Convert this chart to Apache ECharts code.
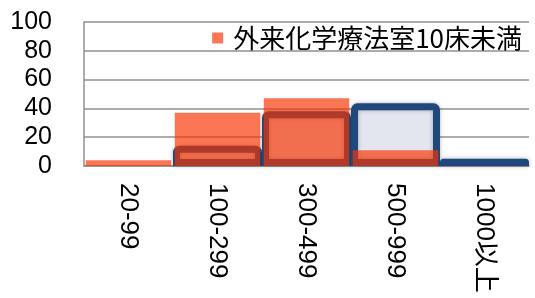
<!DOCTYPE html>
<html>
<head>
<meta charset="utf-8">
<script src="https://cdn.jsdelivr.net/npm/echarts@6/dist/echarts.min.js"></script>
<style>
  html, body { margin: 0; padding: 0; background: #fff; overflow: hidden; }
  #chart { width: 535px; height: 298px; }
</style>
</head>
<body>
<div id="chart"></div>
<script>
// bed-size categories
const categories = ['20-99', '100-299', '300-499', '500-999', '1000以上']
const yTicks = [0, 20, 40, 60, 80, 100]

// orange series (the one in the legend)
const seriesName = '外来化学療法室10床未満'
const orangeValues = [4, 37, 47, 11, 0]
// dark blue outlined step bars behind it
const blueValues = ['-', 14, 38, 43.5, 5]

var myChart = echarts.init(document.getElementById('chart'))

var labelFont = '"Liberation Sans", "Noto Sans CJK JP", Arial, sans-serif'

var option = {
    animation: false,
    grid: {
        left: 84,
        right: 6,
        top: 22,
        bottom: 132,
    },
    legend: {
        data: [seriesName],
        right: 8,
        top: 20,
        itemWidth: 11,
        itemHeight: 11,
        icon: 'rect',
        textStyle: {
            fontFamily: '"Noto Sans CJK JP", sans-serif',
            fontSize: 26,
            color: '#000',
            padding: [0, 0, 0, 5],
        },
    },
    xAxis: [{
        type: 'category',
        data: categories,
        axisLine: { lineStyle: { color: '#909090', width: 1.5 } },
        axisTick: { show: false },
        axisLabel: {
            rotate: -90,
            margin: 17,
            fontSize: 26,
            fontFamily: labelFont,
            color: '#000',
        },
    }, {
        type: 'category',
        data: categories,
        show: false,
    }],
    yAxis: {
        type: 'value',
        min: yTicks[0],
        max: yTicks[yTicks.length - 1],
        interval: 20,
        axisLine: { show: true, lineStyle: { color: '#909090', width: 1.5 } },
        axisTick: { show: false },
        splitLine: { lineStyle: { color: '#909090', width: 1.5 } },
        axisLabel: {
            margin: 32,
            fontSize: 25,
            fontFamily: labelFont,
            color: '#000',
            padding: [5, 0, 0, 0],
        },
    },
    series: [{
        name: 'blue',
        type: 'bar',
        xAxisIndex: 1,
        data: blueValues,
        barCategoryGap: 0,
        clip: true,
        z: 1,
        itemStyle: {
            color: '#e3e6ee',
            borderColor: '#1f497d',
            borderWidth: 7,
            borderRadius: [3, 3, 0, 0],
            shadowBlur: 4,
            shadowColor: 'rgba(0,0,0,0.3)',
        },
    }, {
        name: seriesName,
        type: 'bar',
        xAxisIndex: 0,
        data: orangeValues,
        barCategoryGap: '4%',
        z: 3,
        itemStyle: {
            color: 'rgba(248,50,0,0.67)',
        },
    }]
}
myChart.setOption(option)
</script>
</body>
</html>
